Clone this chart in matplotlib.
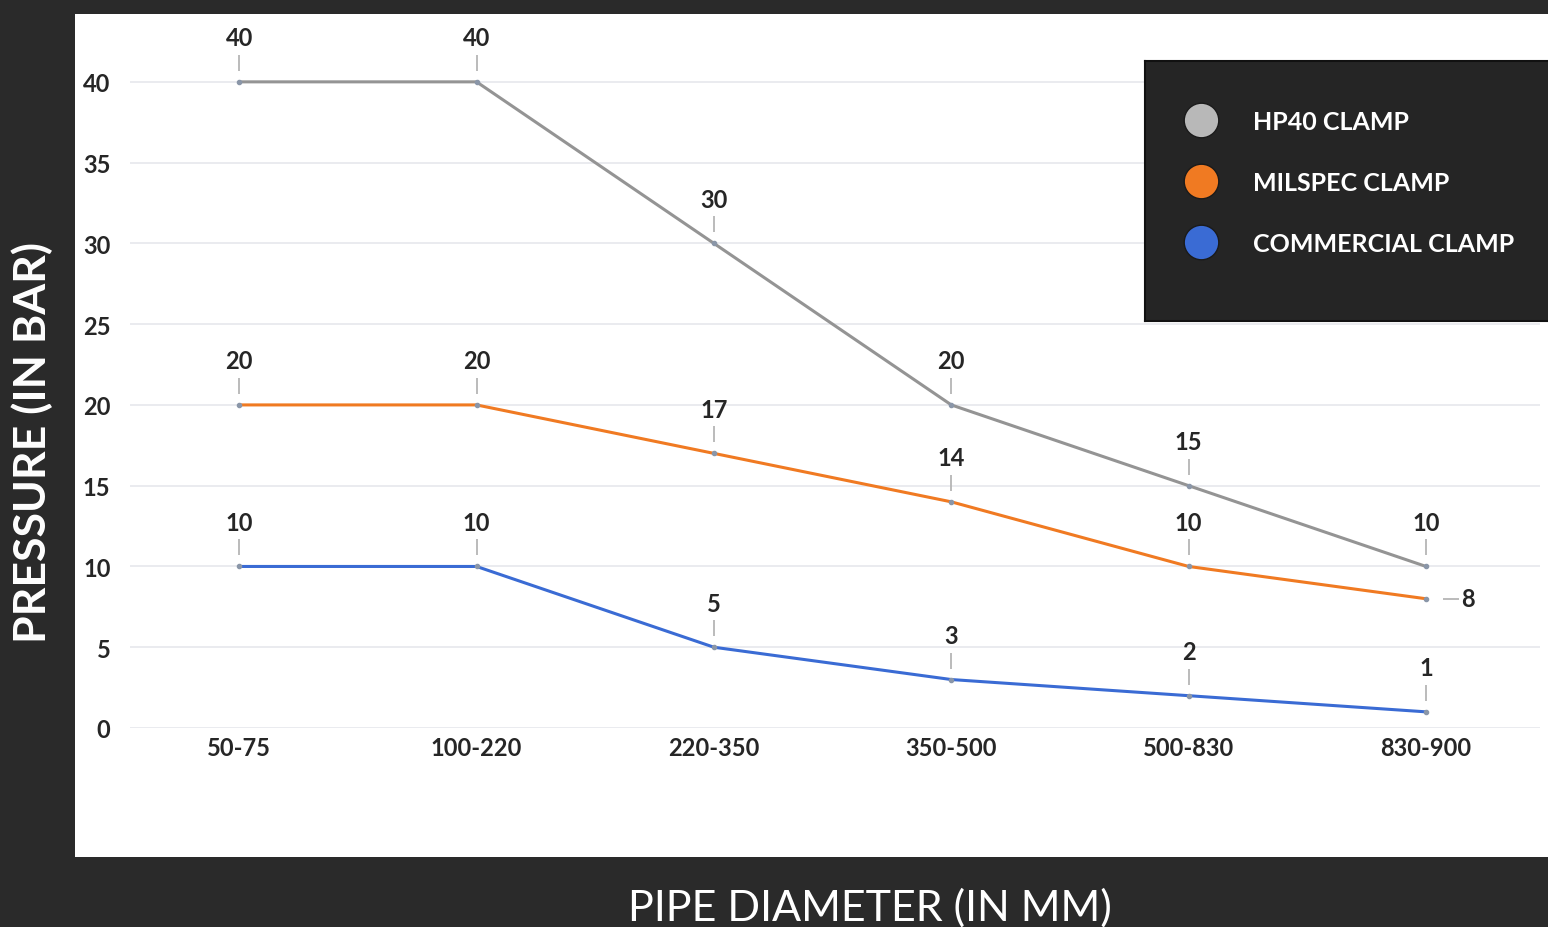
import matplotlib
matplotlib.use("Agg")
import matplotlib.pyplot as plt
import matplotlib.transforms as mtransforms
from matplotlib.patches import Rectangle

# data
diameters = ['50-75', '100-220', '220-350', '350-500', '500-830', '830-900']
series_names = ['HP40 CLAMP', 'MILSPEC CLAMP', 'COMMERCIAL CLAMP']
hp40 = [40, 40, 30, 20, 15, 10]
milspec = [20, 20, 17, 14, 10, 8]
commercial = [10, 10, 5, 3, 2, 1]
y_ticks = [0, 5, 10, 15, 20, 25, 30, 35, 40]

colors = ['#949494', '#f07a22', '#3a6bd4']
bg = '#2a2a2a'
text_dark = '#262626'

plt.rcParams['font.family'] = ['Lato', 'DejaVu Sans']

fig = plt.figure(figsize=(15.48, 9.28), dpi=100)
fig.patch.set_facecolor(bg)

# white panel behind the plot
fig.patches.append(Rectangle((75 / 1548, 70 / 928), 1.0, 843 / 928,
                             transform=fig.transFigure, facecolor='white',
                             edgecolor='none', zorder=-10))

ax = fig.add_axes([130 / 1548, 199 / 928, 1410 / 1548, 714 / 928])
ax.set_facecolor('none')
x = list(range(len(diameters)))

all_series = [hp40, milspec, commercial]
for vals, col in zip(all_series, colors):
    ax.plot(x, vals, color=col, lw=2.2, zorder=3, solid_capstyle='round')
    ax.plot(x, vals, ls='none', marker='o', ms=3, color='#8a96a8', zorder=4)

# value labels with little dash above each point
dash_tr = mtransforms.offset_copy(ax.transData, fig=fig, y=19, units='dots')
for si, (vals, col) in enumerate(zip(all_series, colors)):
    for i, v in enumerate(vals):
        if si == 1 and i == len(vals) - 1:
            side_tr = mtransforms.offset_copy(ax.transData, fig=fig, x=25, units='dots')
            ax.plot([i], [v], ls='none', marker='_', ms=11, mew=1.3,
                    color='#b5b5b5', transform=side_tr, zorder=4)
            ax.annotate(str(v), (i, v), xytext=(42, 0), textcoords='offset pixels',
                        ha='center', va='center', fontsize=17, fontweight='bold',
                        color=text_dark)
            continue
        ax.plot([i], [v], ls='none', marker='|', ms=11, mew=1.3,
                color='#b5b5b5', transform=dash_tr, zorder=4)
        ax.annotate(str(v), (i, v), xytext=(0, 44), textcoords='offset pixels',
                    ha='center', va='center', fontsize=17, fontweight='bold',
                    color=text_dark)

ax.set_xlim(-0.46, 5.48)
ax.set_ylim(0, 44.2)
ax.set_yticks(y_ticks)
ax.set_xticks(x)
ax.set_xticklabels(diameters)
ax.grid(axis='y', color='#e6e7ec', lw=1.2, zorder=1)
ax.set_axisbelow(True)
for s in ax.spines.values():
    s.set_visible(False)
ax.tick_params(axis='both', length=0, colors=text_dark, labelsize=17)
ax.tick_params(axis='y', pad=14)
ax.tick_params(axis='x', pad=6)
for lab in ax.get_xticklabels() + ax.get_yticklabels():
    lab.set_fontweight('bold')

# axis titles on the dark background
fig.text(32 / 1548, 1 - 443 / 928, 'PRESSURE (IN BAR)', rotation=90,
         ha='center', va='center', color='white', fontsize=32, fontweight='bold')
fig.text(870 / 1548, 1 - 908 / 928, 'PIPE DIAMETER (IN MM)',
         ha='center', va='center', color='white', fontsize=31)

# legend box
lax = fig.add_axes([1145 / 1548, 1 - 322 / 928, 410 / 1548, 260 / 928])
lax.set_facecolor('#252525')
lax.set_xlim(1145, 1555)
lax.set_ylim(322, 62)
lax.set_xticks([])
lax.set_yticks([])
for s in lax.spines.values():
    s.set_color('#111111')
    s.set_linewidth(1.5)
for name, col, yy in zip(series_names, colors, [121, 182, 243]):
    c = '#b8b8b8' if col == colors[0] else col
    lax.scatter([1201], [yy], s=620, color=c, edgecolors='#1a1a1a', linewidths=1)
    lax.text(1253, yy + 1, name, ha='left', va='center', color='white',
             fontsize=18, fontweight='bold')

fig.savefig('out.png', dpi=100, facecolor=fig.get_facecolor())
